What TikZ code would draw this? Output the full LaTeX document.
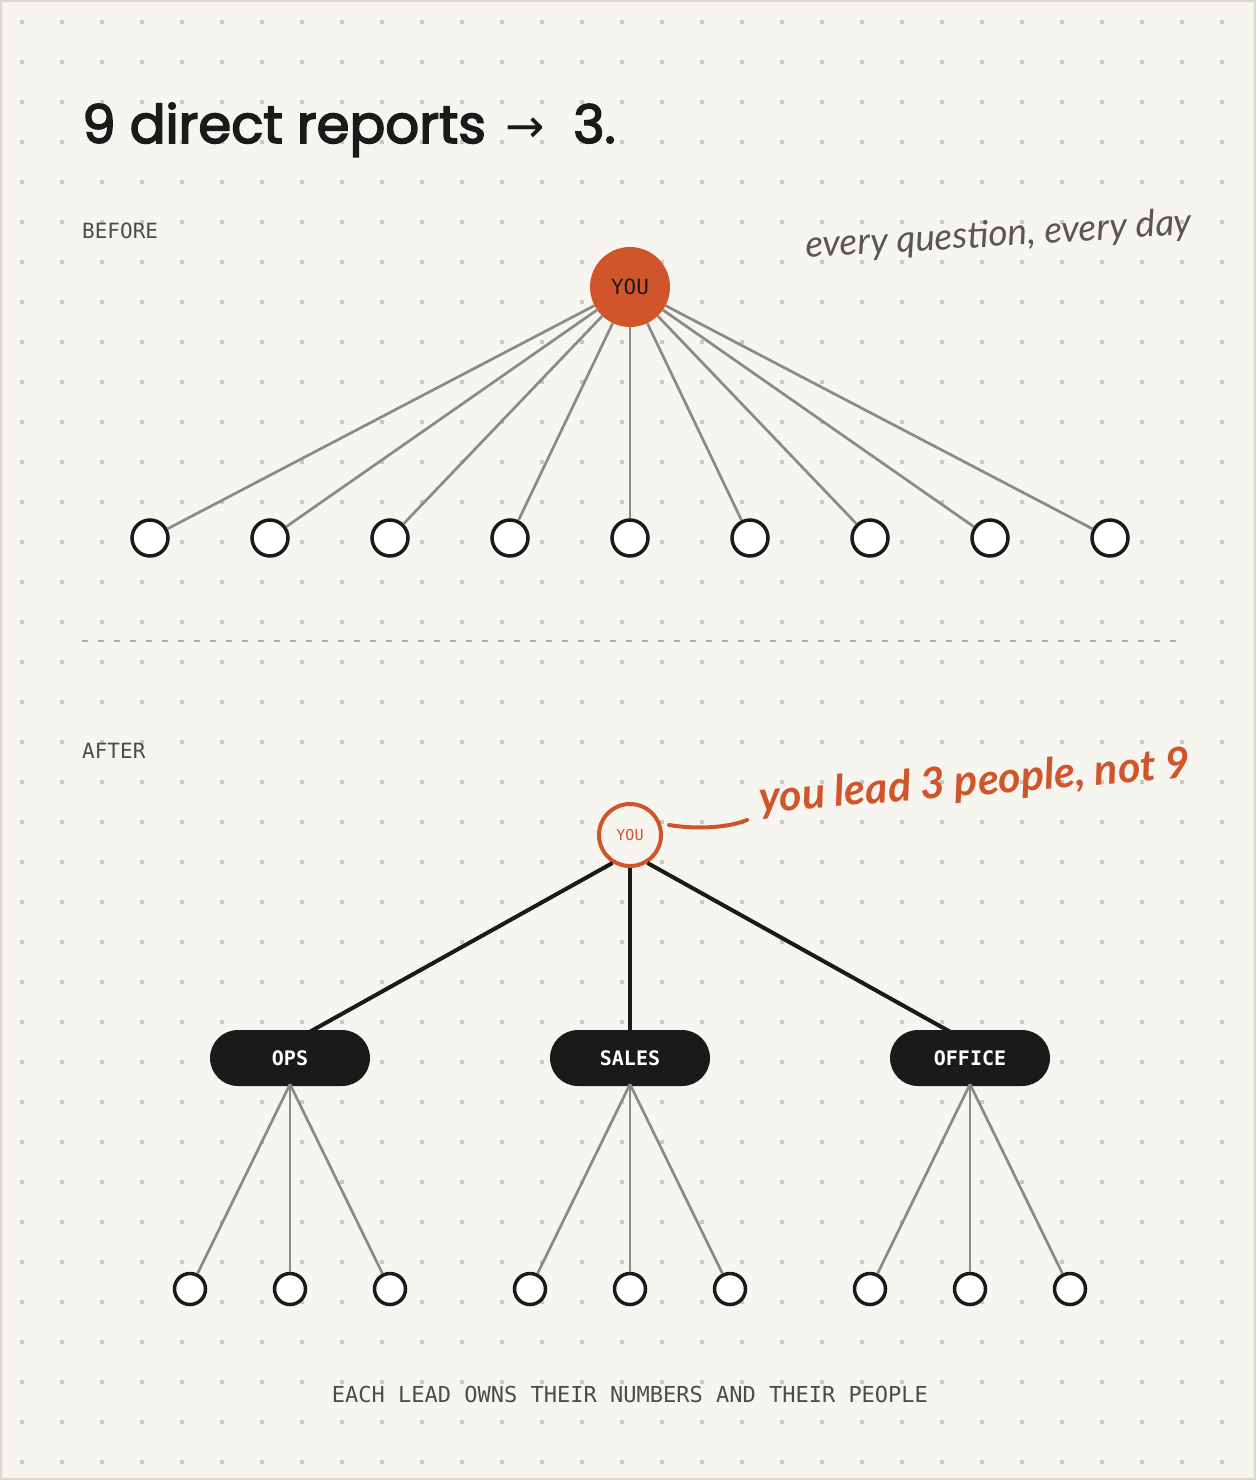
\documentclass[tikz,border=0pt]{standalone}
\usepackage{fontspec}
\setmainfont{Lato}
\newfontfamily\titlefont{Poppins}[UprightFeatures={FakeBold=3}]
\newfontfamily\monofont{DejaVu Sans Mono}
\newfontfamily\handfont{Lato}
\newfontfamily\symfont{DejaVu Sans}
\definecolor{bgc}{HTML}{F7F5F0}
\definecolor{borderc}{HTML}{DCD8D0}
\definecolor{dotc}{HTML}{CBC8C2}
\definecolor{ink}{HTML}{1A1A1A}
\definecolor{orangec}{HTML}{D0552B}
\definecolor{greyl}{HTML}{8C8A85}
\definecolor{labelc}{HTML}{4D4C4A}
\definecolor{handgrey}{HTML}{5A5753}
\definecolor{dashc}{HTML}{ADABA6}
\tikzset{
  leafbig/.style={circle, draw=ink, line width=3.5pt, fill=white, minimum size=36pt, inner sep=0pt},
  leafsmall/.style={circle, draw=ink, line width=3.5pt, fill=white, minimum size=31pt, inner sep=0pt},
  greyline/.style={draw=greyl, line width=2.7pt},
  blackline/.style={draw=ink, line width=4pt},
  pill/.style={rectangle, rounded corners=28pt, fill=ink, text=white, minimum width=160pt, minimum height=56pt, inner sep=0pt, font=\monofont\bfseries\fontsize{20}{20}\selectfont},
  seclabel/.style={anchor=base west, inner sep=0pt, text=labelc, font=\monofont\fontsize{21}{24}\selectfont},
}
\begin{document}
\begin{tikzpicture}[x=1pt,y=-1pt]
\fill[bgc] (0,0) rectangle (1256,1480);
\draw[borderc, line width=2pt] (1,1) rectangle (1255,1479);
\foreach \i in {0,...,30} {
  \foreach \j in {0,...,36} {
    \fill[dotc] ({20+40*\i},{20+40*\j}) rectangle ++(4,4);
  }
}
\useasboundingbox (0,0) rectangle (1256,1480);

% title
\node[anchor=base west, inner sep=0pt, text=ink] (title) at (82,143)
  {\titlefont\fontsize{53}{60}\selectfont 9 direct reports\hspace{20pt}{\symfont\raisebox{1pt}{\fontsize{47}{47}\selectfont →}}\hspace{28pt}3.};

% BEFORE
\node[seclabel] (before) at (82,238) {BEFORE};
\node[circle, fill=orangec, minimum size=80pt, inner sep=0pt, text=ink, font=\monofont\fontsize{21}{21}\selectfont] (you1) at (630,287) {YOU};
\foreach \k in {1,...,9} {
  \node[leafbig] (b\k) at ({30+120*\k},538) {};
  \draw[greyline] (you1) -- (b\k);
}
\node[anchor=base west, inner sep=0pt, text=handgrey, rotate=3.5, font=\handfont\itshape\fontsize{37}{37}\selectfont] (q) at (806,258) {every question, every day};

% separator
\draw[dashc, line width=1.5pt, dash pattern=on 6pt off 10pt] (82,641) -- (1178,641);

% AFTER
\node[seclabel] (after) at (82,758) {AFTER};
\node[circle, draw=orangec, line width=4pt, fill=bgc, minimum size=62pt, inner sep=0pt, text=orangec, font=\monofont\fontsize{15}{15}\selectfont] (you2) at (630,835) {YOU};

\node[pill] (ops) at (290,1058) {OPS};
\node[pill] (sales) at (630,1058) {SALES};
\node[pill] (office) at (970,1058) {OFFICE};

\draw[blackline] (you2.238) -- ([xshift=18pt,yshift=-3pt]ops.north);
\draw[blackline] (you2.south) -- ([yshift=-3pt]sales.north);
\draw[blackline] (you2.302) -- ([xshift=-18pt,yshift=-3pt]office.north);

\foreach \p/\c [count=\g] in {ops/290, sales/630, office/970} {
  \foreach \d [count=\m] in {-100,0,100} {
    \node[leafsmall] (l\g\m) at ({\c+\d},1289) {};
    \draw[greyline] ([yshift=2pt]\p.south) -- (l\g\m);
  }
}

% annotation
\coordinate (annot) at (747,820);
\draw[orangec, line width=4pt, line cap=round] ([xshift=6pt,yshift=10pt]you2.east) .. controls (700,830) and (730,827) .. (annot);
\node[anchor=base west, inner sep=0pt, text=orangec, rotate=4.7, font=\handfont\bfseries\itshape\fontsize{43}{43}\selectfont] (lead) at (760,813) {you lead 3 people, not 9};

% footer
\node[anchor=base, inner sep=0pt, text=labelc, font=\monofont\fontsize{22}{24}\selectfont] (foot) at (630,1402) {EACH LEAD OWNS THEIR NUMBERS AND THEIR PEOPLE};
\end{tikzpicture}
\end{document}
